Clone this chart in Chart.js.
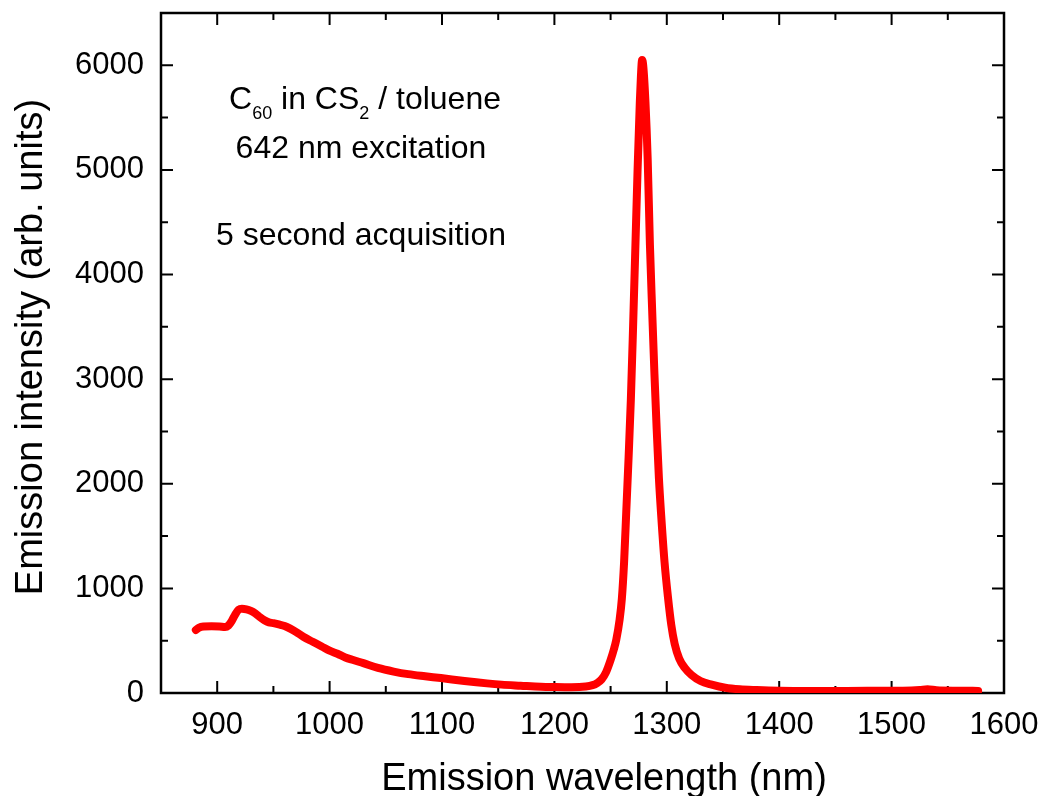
<!DOCTYPE html>
<html><head><meta charset="utf-8">
<script src="https://cdn.jsdelivr.net/npm/chart.js@4.4.1/dist/chart.umd.min.js"></script>
<style>html,body{margin:0;padding:0;background:#fff;}canvas{display:block;}</style>
</head><body>
<canvas id="c" width="1045" height="796"></canvas>
<script>
// ---- data ----
const wavelengths = [881,884,888,895,902,907,910,913,916,919,922,926,930,934,938,942,946,950,955,960,965,970,977,985,993,1000,1007,1014,1021,1030,1043,1057,1070,1085,1099,1120,1140,1153,1170,1188,1200,1215,1228,1234,1238,1242,1246,1250,1253,1255,1258,1260,1262,1264,1266,1268,1270,1272,1274,1276,1277,1278,1279,1281,1283,1285,1287,1289,1291,1293,1295,1298,1301,1304,1307,1311,1316,1322,1330,1340,1352,1365,1380,1400,1430,1460,1490,1510,1525,1532,1540,1560,1577];
const intensities = [602,625,635,638,636,630,645,690,750,795,805,800,785,760,725,695,675,668,655,640,615,585,535,490,445,405,375,340,315,285,240,205,180,160,143,115,92,80,70,60,57,55,62,75,95,130,200,315,420,506,700,900,1250,1750,2250,2800,3500,4250,5000,5650,5900,6050,6000,5650,5100,4280,3650,3050,2520,2050,1700,1250,920,650,470,330,240,172,115,80,50,35,28,22,20,20,21,22,28,35,26,22,20];
const xTickValues = [900,1000,1100,1200,1300,1400,1500,1600];
const xMinorValues = [950,1050,1150,1250,1350,1450,1550];
const yTickValues = [0,1000,2000,3000,4000,5000,6000];
const yMinorValues = [500,1500,2500,3500,4500,5500];
const xTitle = 'Emission wavelength (nm)';
const yTitle = 'Emission intensity (arb. units)';
const noteLine1 = [['C','main'],['60','sub'],[' in CS','main'],['2','sub'],[' / toluene','main']];
const noteLine2 = '642 nm excitation';
const noteLine3 = '5 second acquisition';

const FONT = "'Liberation Sans', Arial, Helvetica, sans-serif";

const framePlugin = {
  id: 'frame',
  beforeDatasetsDraw(chart) {
    const {ctx, chartArea: a, scales: {x, y}} = chart;
    ctx.save();
    ctx.strokeStyle = '#000';
    ctx.lineWidth = 2;
    ctx.beginPath();
    const tick = (px, py, dx, dy) => { ctx.moveTo(px, py); ctx.lineTo(px + dx, py + dy); };
    xTickValues.forEach(v => { const p = x.getPixelForValue(v); tick(p, a.bottom, 0, -12); tick(p, a.top, 0, 12); });
    xMinorValues.forEach(v => { const p = x.getPixelForValue(v); tick(p, a.bottom, 0, -7); tick(p, a.top, 0, 7); });
    yTickValues.forEach(v => { const p = y.getPixelForValue(v); tick(a.left, p, 12, 0); tick(a.right, p, -12, 0); });
    yMinorValues.forEach(v => { const p = y.getPixelForValue(v); tick(a.left, p, 7, 0); tick(a.right, p, -7, 0); });
    ctx.stroke();
    ctx.lineWidth = 2.5;
    ctx.strokeRect(a.left, a.top, a.right - a.left, a.bottom - a.top);
    ctx.restore();
  },
  afterDraw(chart) {
    const {ctx} = chart;
    ctx.save();
    ctx.fillStyle = '#000';
    ctx.font = '38px ' + FONT;
    ctx.textAlign = 'center';
    ctx.textBaseline = 'alphabetic';
    ctx.fillText(xTitle, 604, 790);
    ctx.save();
    ctx.translate(42, 347);
    ctx.rotate(-Math.PI / 2);
    ctx.fillText(yTitle, 0, 0);
    ctx.restore();
    const mainF = '32px ' + FONT, subF = '18px ' + FONT;
    let total = 0;
    noteLine1.forEach(([t, k]) => { ctx.font = k === 'main' ? mainF : subF; total += ctx.measureText(t).width; });
    let cx = 365 - total / 2;
    ctx.textAlign = 'left';
    noteLine1.forEach(([t, k]) => {
      ctx.font = k === 'main' ? mainF : subF;
      ctx.fillText(t, cx, k === 'main' ? 109 : 119);
      cx += ctx.measureText(t).width;
    });
    ctx.font = mainF;
    ctx.textAlign = 'center';
    ctx.fillText(noteLine2, 361, 158);
    ctx.fillText(noteLine3, 361, 245);
    ctx.restore();
  }
};

Chart.defaults.font.family = FONT;
Chart.defaults.color = '#000';

new Chart(document.getElementById('c'), {
  type: 'line',
  data: {
    datasets: [{
      data: wavelengths.map((w, i) => ({x: w, y: intensities[i]})),
      borderColor: '#ff0000',
      borderWidth: 8,
      pointRadius: 0,
      cubicInterpolationMode: 'monotone',
      borderCapStyle: 'round',
      borderJoinStyle: 'round',
      fill: false
    }]
  },
  options: {
    responsive: false,
    animation: false,
    devicePixelRatio: 1,
    layout: {padding: {top: 13, right: 41, left: 0, bottom: 0}},
    plugins: {legend: {display: false}, tooltip: {enabled: false}},
    scales: {
      x: {
        type: 'linear', min: 850, max: 1600,
        afterBuildTicks: s => { s.ticks = xTickValues.map(v => ({value: v})); },
        afterFit: s => { s.height = 103; s.paddingLeft = 0; s.paddingRight = 0; },
        grid: {display: false, drawTicks: false, tickLength: 0},
        border: {display: false},
        ticks: {font: {size: 31, lineHeight: 1}, padding: 17, autoSkip: false, maxRotation: 0, color: '#000',
                callback: v => String(v)}
      },
      y: {
        type: 'linear', min: 0, max: 6500,
        afterBuildTicks: s => { s.ticks = yTickValues.map(v => ({value: v})); },
        afterFit: s => { s.width = 161; s.paddingTop = 0; s.paddingBottom = 0; },
        grid: {display: false, drawTicks: false, tickLength: 0},
        border: {display: false},
        ticks: {font: {size: 31, lineHeight: 1}, padding: 17, autoSkip: false, color: '#000',
                callback: v => String(v)}
      }
    }
  },
  plugins: [framePlugin]
});
</script>
</body></html>
